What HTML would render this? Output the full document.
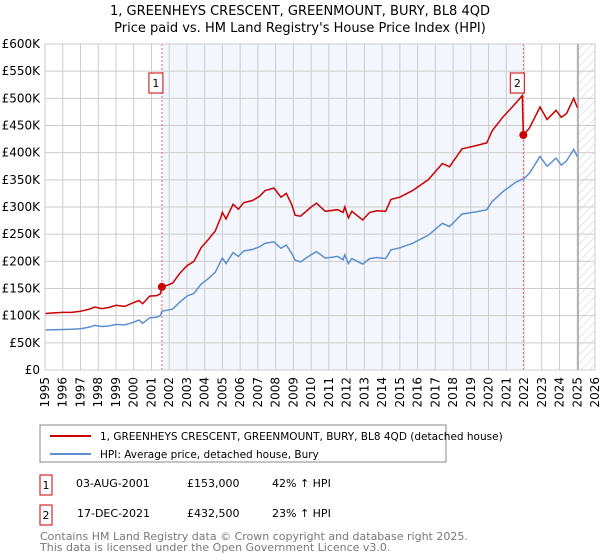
<!DOCTYPE html>
<html><head><meta charset="utf-8"><style>
body{margin:0;background:#fff;font-family:"DejaVu Sans","Liberation Sans",sans-serif;}
svg{display:block}
</style></head><body>
<svg id="c" width="600" height="560" xmlns="http://www.w3.org/2000/svg" font-family="DejaVu Sans, Liberation Sans, sans-serif">
<defs><pattern id="hatch" width="6" height="6" patternUnits="userSpaceOnUse" patternTransform="rotate(45)"><line x1="0" y1="0" x2="0" y2="6" stroke="#ccc" stroke-width="1"/></pattern></defs>
<text x="300" y="15" text-anchor="middle" font-size="13">1, GREENHEYS CRESCENT, GREENMOUNT, BURY, BL8 4QD</text>
<text x="300" y="32" text-anchor="middle" font-size="13">Price paid vs. HM Land Registry's House Price Index (HPI)</text>
<g id="plot"></g>
<rect x="40" y="425" width="406" height="37" fill="#fff" stroke="#888"/>
<line x1="50" y1="436" x2="91" y2="436" stroke="#cc0000" stroke-width="2"/>
<text x="100" y="440" font-size="10.5">1, GREENHEYS CRESCENT, GREENMOUNT, BURY, BL8 4QD (detached house)</text>
<line x1="50" y1="454" x2="91" y2="454" stroke="#5b8fd0" stroke-width="2"/>
<text x="100" y="458" font-size="10.5">HPI: Average price, detached house, Bury</text>
<rect x="40" y="475" width="12" height="20" fill="none" stroke="#cc0000"/>
<text x="46" y="489" font-size="11" text-anchor="middle">1</text>
<text x="76" y="487" font-size="11">03-AUG-2001</text>
<text x="187" y="487" font-size="11">£153,000</text>
<text x="272" y="487" font-size="11">42% ↑ HPI</text>
<rect x="40" y="505" width="12" height="20" fill="none" stroke="#cc0000"/>
<text x="46" y="519" font-size="11" text-anchor="middle">2</text>
<text x="77" y="517" font-size="11">17-DEC-2021</text>
<text x="187" y="517" font-size="11">£432,500</text>
<text x="272" y="517" font-size="11">23% ↑ HPI</text>
<text x="40" y="540" font-size="11" fill="#777">Contains HM Land Registry data © Crown copyright and database right 2025.</text>
<text x="40" y="551" font-size="11" fill="#777">This data is licensed under the Open Government Licence v3.0.</text>
</svg>
<script>
const dates=[1995.0,1995.5,1996.0,1996.5,1997.0,1997.5,1997.8,1998.2,1998.6,1999.0,1999.5,2000.0,2000.3,2000.5,2000.9,2001.3,2001.5,2001.59,2001.9,2002.2,2002.6,2003.0,2003.4,2003.8,2004.2,2004.6,2004.9,2005.0,2005.2,2005.6,2005.9,2006.2,2006.7,2007.1,2007.4,2007.9,2008.3,2008.6,2008.9,2009.1,2009.4,2010.0,2010.3,2010.8,2011.5,2011.8,2011.9,2012.1,2012.3,2012.9,2013.3,2013.7,2014.2,2014.5,2015.0,2015.7,2016.6,2017.4,2017.8,2018.5,2019.3,2019.9,2020.2,2020.8,2021.5,2021.9,2021.96,2022.3,2022.9,2023.3,2023.8,2024.1,2024.4,2024.8,2025.0];
const hpiValues=[73.6,74,74.5,75,76,79,82,80,81,84,83,88,92,86,96,97,100,108,110,112,125,136,141,158,168,180,200,206,196,216,209,219,222,227,233,236,224,230,215,202,199,212,218,206,209,203,212,196,205,195,205,207,205,221,225,233,248,270,264,287,291,295,310,328,345,351,351,362,393,375,390,377,385,406,393];
const priceValues=[104,105,106,106,108,112,116,113,115,119,117,124,128,122,136,137,140,153,156,160,178,192,200,225,240,256,280,290,278,305,296,308,312,320,330,335,318,325,305,285,283,300,307,292,295,290,300,280,292,276,290,293,292,314,318,330,350,380,374,407,413,418,440,465,490,505,432.5,445,484,461,478,465,472,500,483];
const saleDates=[2001.59,2021.96];
const saleValues=[153,432.5];
const saleLabels=["1","2"];
const yTicks=[0,50,100,150,200,250,300,350,400,450,500,550,600];
const yTickLabels=["£0","£50K","£100K","£150K","£200K","£250K","£300K","£350K","£400K","£450K","£500K","£550K","£600K"];
const xTicks=[1995,1996,1997,1998,1999,2000,2001,2002,2003,2004,2005,2006,2007,2008,2009,2010,2011,2012,2013,2014,2015,2016,2017,2018,2019,2020,2021,2022,2023,2024,2025,2026];
const dataEnd=2025.05;
const L=45,R=595,T=44,B=370;
const xs=d=>L+(d-1995)/(2026-1995)*(R-L);
const ys=v=>B-v/600*(B-T);
const NS="http://www.w3.org/2000/svg";
const g=document.getElementById('plot');
function mk(t,a){const e=document.createElementNS(NS,t);for(const k in a)e.setAttribute(k,a[k]);g.appendChild(e);return e;}
let e;
e=mk('rect',{x:xs(saleDates[0]),y:T,width:xs(saleDates[1])-xs(saleDates[0]),height:B-T,fill:'#f3f6fd'});


e=mk('rect',{x:xs(dataEnd),y:T,width:R-xs(dataEnd),height:B-T,fill:'url(#hatch)'});


xTicks.forEach((t,i)=>{
 e=mk('line',{x1:xs(t),x2:xs(t),y1:T,y2:B,stroke:'#ccc','stroke-width':1});
 
 
 e=mk('text',{x:0,y:0,'font-size':12,'text-anchor':'end',transform:`translate(${xs(t)+4},${B+7}) rotate(-90)`});
 e.textContent=t;
 
 
});
yTicks.forEach((t,i)=>{
 e=mk('line',{x1:L,x2:R,y1:ys(t),y2:ys(t),stroke:'#ccc','stroke-width':1});
 
 
 e=mk('text',{x:40,y:ys(t)+4,'font-size':12,'text-anchor':'end'});
 e.textContent=yTickLabels[i];
 
 
});
e=mk('line',{x1:xs(dataEnd),x2:xs(dataEnd),y1:T,y2:B,stroke:'#999','stroke-width':1.2});


saleDates.forEach((d,i)=>{
 e=mk('line',{x1:xs(d),x2:xs(d),y1:T,y2:B,stroke:'#f06060','stroke-width':1,'stroke-dasharray':'2,2'});
 
 
});
const pts=a=>a.map((v,i)=>xs(dates[i]).toFixed(1)+','+ys(v).toFixed(1)).join(' ');
e=mk('polyline',{points:pts(hpiValues),fill:'none',stroke:'#5b8fd0','stroke-width':1.5});


e=mk('polyline',{points:pts(priceValues),fill:'none',stroke:'#cc0000','stroke-width':1.5});


saleDates.forEach((d,i)=>{
 e=mk('circle',{cx:xs(d),cy:ys(saleValues[i]),r:4,fill:'#cc0000'});
 
 
 e=mk('rect',{x:xs(d)-13,y:73,width:14,height:20,fill:'#fff',stroke:'#cc0000'});
 
 
 e=mk('text',{x:xs(d)-6,y:87,'font-size':11,'text-anchor':'middle'});
 e.textContent=saleLabels[i];
 
 
});
e=mk('rect',{x:L,y:T,width:R-L,height:B-T,fill:'none',stroke:'#ccc'});


</script>
</body></html>
